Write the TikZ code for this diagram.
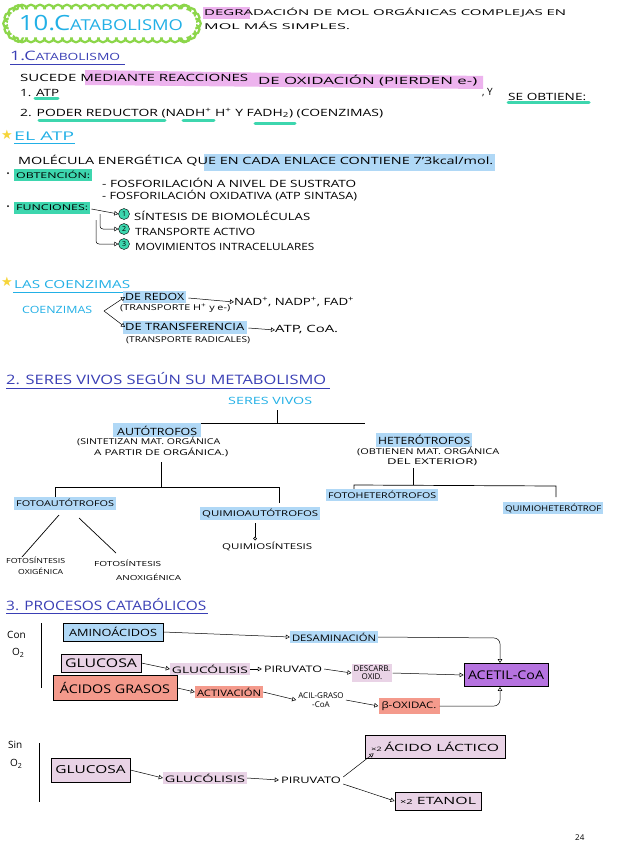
\documentclass[tikz,border=0pt]{standalone}
\usepackage{fontspec}
\usepackage{graphicx}
\setmainfont{Open Sans}
\newfontfamily\symf{DejaVu Sans}
\usetikzlibrary{arrows.meta}
\newcommand\fw[2]{\resizebox{#1}{\height}{#2}}
\definecolor{hblue}{HTML}{3A3FB5}
\definecolor{cyanT}{HTML}{22B0E6}
\definecolor{tgreen}{HTML}{8CD64A}
\definecolor{hpink}{HTML}{EDB3EE}
\definecolor{hgreen}{HTML}{3DD6AE}
\definecolor{hlblue}{HTML}{B0D8F6}
\definecolor{purp}{HTML}{B673E0}
\definecolor{salm}{HTML}{F49A8C}
\definecolor{lilac}{HTML}{E9D3E6}
\definecolor{ystar}{HTML}{F6D53A}
\tikzset{
 t/.style={anchor=west, inner sep=0pt, font=\fontsize{10}{12}\selectfont},
 ts/.style={anchor=west, inner sep=0pt, font=\fontsize{8}{10}\selectfont},
 hd/.style={anchor=west, inner sep=0pt, text=hblue, font=\fontsize{13}{14}\selectfont},
 cy/.style={anchor=west, inner sep=0pt, text=cyanT, font=\fontsize{11}{12}\selectfont},
 ul/.style={line width=0.8pt},
 gul/.style={hgreen, line width=3pt, line cap=round},
 arr/.style={-{Triangle[open,length=4pt,width=4.5pt]}, line width=0.5pt},
 bx/.style={draw, line width=0.8pt, inner sep=0pt, font=\fontsize{10}{12}\selectfont},
 hlt/.style={inner sep=2pt, font=\fontsize{9}{11}\selectfont},
 num/.style={circle, draw, fill=hgreen, inner sep=0pt, minimum size=11pt, font=\fontsize{7}{7}\selectfont},
 tree/.style={line width=0.7pt},
 puff/.style={draw=tgreen, line width=2.2pt}
}
\begin{document}
\begin{tikzpicture}[x=1pt,y=-1pt]
\useasboundingbox (0,0) rectangle (616,848);
\fill[white] (0,0) rectangle (616,848);
% ---------- title cloud
\foreach \x in {22,31,...,184} {
  \draw[puff] (\x,9.5) circle (4.8pt);
  \draw[puff] (\x,37.5) circle (4.8pt);
}
\foreach \a in {105,130,...,255} { \draw[puff] (22,23.5) ++(\a:14) circle (4.8pt); }
\foreach \a in {-75,-50,...,75} { \draw[puff] (182,23.5) ++(\a:14) circle (4.8pt); }
\fill[white, rounded corners=13pt] (8,9.5) rectangle (196,37.5);
\node[inner sep=0pt, text=cyanT] (ttl) at (101,23.5) {\fw{164pt}{\fontsize{21}{21}\selectfont 10.C\fontsize{15}{15}\selectfont ATABOLISMO}};
\fill[hpink] (203,7) rectangle (250,19);
\node[ts] (deg1) at (204,13) {\fw{362pt}{DEGRADACIÓN DE MOL ORGÁNICAS COMPLEJAS EN}};
\node[ts] (deg2) at (204,26) {\fw{146pt}{MOL MÁS SIMPLES.}};
% ---------- 1. catabolismo
\node[hd] (s1) at (10,56) {\fw{110pt}{1.C{\fontsize{10}{12}\selectfont ATABOLISMO}}};
\draw[hblue,ul] (10,64) -- (125,64);
\fill[hpink] (85,70) -- (483,76) -- (483,89) -- (85,85) -- cycle;
\node[t] (suc1) at (20,78) {\fw{228pt}{SUCEDE MEDIANTE REACCIONES}};
\node[t] (suc2) at (258,81) {\fw{219pt}{DE OXIDACIÓN (PIERDEN e-)}};
\node[t] (yy) at (482,93) {, Y};
\draw[gul] (508,103) -- (589,103);
\node[t] (obt) at (508,97) {\fw{78pt}{SE OBTIENE:}};
\draw[gul] (35,99) -- (58,99);
\node[t] (atp1) at (20,93) {\fw{39pt}{1. ATP}};
\draw[gul] (39,121) -- (165,121);
\draw[gul] (183,121) -- (214,121);
\draw[gul] (255,124) -- (295,124);
\node[t] (pod) at (20,113) {\fw{363pt}{2. PODER REDUCTOR (NADH\textsuperscript{+} H\textsuperscript{+} Y FADH\textsubscript{2}) (COENZIMAS)}};
% ---------- EL ATP
\node[t, text=ystar, font=\symf\fontsize{13}{13}\selectfont] (st1) at (1,135) {★};
\node[cy, font=\fontsize{12}{13}\selectfont] (elatp) at (14,136) {\fw{60pt}{EL ATP}};
\draw[cyanT,ul] (14,143) -- (75,143);
\fill[hlblue] (204,154) rectangle (495,171);
\node[t] (mol) at (18,161) {\fw{475pt}{MOLÉCULA ENERGÉTICA QUE EN CADA ENLACE CONTIENE 7'3kcal/mol.}};
\fill[hgreen] (14,169) rectangle (92,181);
\fill (8,173) circle (1pt);
\node[ts] (obtc) at (16,175) {\fw{74pt}{OBTENCIÓN:}};
\node[t] (f1) at (102,183) {\fw{254pt}{- FOSFORILACIÓN A NIVEL DE SUSTRATO}};
\node[t] (f2) at (102,196) {\fw{255pt}{- FOSFORILACIÓN OXIDATIVA (ATP SINTASA)}};
\fill[hgreen] (14,202) rectangle (90,214);
\fill (8,206) circle (1pt);
\node[ts] (func) at (16,208) {\fw{72pt}{FUNCIONES:}};
\node[num] (c1) at (124,214) {1};
\node[num] (c2) at (124,229) {2};
\node[num] (c3) at (124,244) {3};
\node[t] (fn1) at (134,216) {\fw{176pt}{SÍNTESIS DE BIOMOLÉCULAS}};
\node[t] (fn2) at (135,232) {\fw{120pt}{TRANSPORTE ACTIVO}};
\node[t] (fn3) at (135,247) {\fw{179pt}{MOVIMIENTOS INTRACELULARES}};
\draw[arr] (func.east) ++(3,1) -- (c1.west);
\draw[arr, rounded corners=3pt] (100,214) -- (100,229) -- (c2.west);
\draw[arr, rounded corners=3pt] (96,220) -- (96,244) -- (c3.west);
% ---------- LAS COENZIMAS
\node[t, text=ystar, font=\symf\fontsize{13}{13}\selectfont] (st2) at (1,282) {★};
\node[cy] (lasco) at (14,285) {\fw{116pt}{LAS COENZIMAS}};
\draw[cyanT,ul] (13,292) -- (131,292);
\node[cy, font=\fontsize{10}{12}\selectfont] (coenz) at (22,310) {\fw{70pt}{COENZIMAS}};
\coordinate (fork) at (104,311);
\fill[hlblue] (123,291) rectangle (186,303);
\node[t] (redox) at (125,297) {\fw{59pt}{DE REDOX}};
\node[ts] (redox2) at (120,308) {\fw{110pt}{(TRANSPORTE H\textsuperscript{+} y e-)}};
\fill[hlblue] (123,321) rectangle (247,334);
\node[t] (transf) at (125,327) {\fw{119pt}{DE TRANSFERENCIA}};
\node[ts] (transf2) at (126,340) {\fw{124pt}{(TRANSPORTE RADICALES)}};
\draw[arr] (fork) -- (redox.west);
\draw[arr] (fork) -- (transf.west);
\node[t] (nad) at (234,302) {\fw{120pt}{NAD\textsuperscript{+}, NADP\textsuperscript{+}, FAD\textsuperscript{+}}};
\node[t] (atpcoa) at (275,330) {\fw{63pt}{ATP, CoA.}};
\draw[arr] (redox.east) ++(4,1) -- (nad.west);
\draw[arr] (transf.east) ++(4,1) -- (atpcoa.west);
% ---------- 2. seres vivos
\node[hd] (s2) at (6,379) {\fw{320pt}{2. SERES VIVOS SEGÚN SU METABOLISMO}};
\draw[hblue,ul] (6,388) -- (330,388);
\node[cy, font=\fontsize{10}{12}\selectfont] (sv) at (228,401) {\fw{84pt}{SERES VIVOS}};
\draw[tree] (277,410) -- (277,423);
\draw[tree] (161,429) -- (161,423) -- (365,423);
\fill[hlblue] (113,423) rectangle (201,437);
\node[t] (auto) at (117,431) {\fw{80pt}{AUTÓTROFOS}};
\node[ts] (auto2) at (77,441) {\fw{143pt}{(SINTETIZAN MAT. ORGÁNICA}};
\node[ts] (auto3) at (94,452) {\fw{134pt}{A PARTIR DE ORGÁNICA.)}};
\fill[hlblue] (376,433) rectangle (472,447);
\node[t] (het) at (378,440) {\fw{92pt}{HETERÓTROFOS}};
\node[ts] (het2) at (357,451) {\fw{142pt}{(OBTIENEN MAT. ORGÁNICA}};
\node[ts] (het3) at (387,462) {\fw{90pt}{DEL EXTERIOR)}};
\draw[tree] (161,462) -- (161,487);
\draw[tree] (55,497) -- (55,487) -- (279,487) -- (279,503);
\draw[tree] (413,468) -- (413,485);
\draw[tree] (354,491) -- (354,485) -- (556,486) -- (556,497);
\fill[hlblue] (14,497) rectangle (116,510);
\node[ts] (fa) at (16,503) {\fw{98pt}{FOTOAUTÓTROFOS}};
\fill[hlblue] (200,507) rectangle (320,520);
\node[ts] (qa) at (202,513) {\fw{116pt}{QUIMIOAUTÓTROFOS}};
\fill[hlblue] (326,489) rectangle (438,501);
\node[ts] (fh) at (328,495) {\fw{108pt}{FOTOHETERÓTROFOS}};
\fill[hlblue] (503,502) rectangle (603,514);
\node[ts] (qh) at (505,508) {\fw{96pt}{QUIMIOHETERÓTROF}};
\node[ts, font=\fontsize{7}{8}\selectfont] (fox1) at (6,560) {\fw{59pt}{FOTOSÍNTESIS}};
\node[ts, font=\fontsize{7}{8}\selectfont] (fox2) at (18,571) {\fw{45pt}{OXIGÉNICA}};
\node[ts, font=\fontsize{7}{8}\selectfont] (fan1) at (94,563) {\fw{67pt}{FOTOSÍNTESIS}};
\node[ts, font=\fontsize{7}{8}\selectfont] (fan2) at (116,577) {\fw{65pt}{ANOXIGÉNICA}};
\draw[tree] (59,515) -- (22,557);
\draw[tree] (79,518) -- (116,553);
\draw[tree] (255,523) -- (255,537);
\draw[tree] (255,538.5) circle (1.5pt);
\node[ts] (qs) at (222,546) {\fw{90pt}{QUIMIOSÍNTESIS}};
% ---------- 3. procesos
\node[hd] (s3) at (6,605) {\fw{200pt}{3. PROCESOS CATABÓLICOS}};
\draw[hblue,ul] (6,613) -- (208,613);
\node[t] (con) at (7,635) {Con};
\node[t] (o2a) at (12,653) {O\textsubscript{2}};
\draw[tree] (41,623) -- (41,688);
\node[bx, fill=hlblue, minimum width=100pt, minimum height=18pt] (ami) at (113,632) {\fw{88pt}{AMINOÁCIDOS}};
\node[hlt, fill=hlblue] (desam) at (334,637) {\fw{84pt}{DESAMINACIÓN}};
\node[bx, fill=purp, minimum width=84pt, minimum height=23pt] (acet) at (506,675) {\fw{76pt}{\fontsize{12}{12}\selectfont ACETIL-CoA}};
\node[bx, fill=lilac, minimum width=80pt, minimum height=18pt] (glu) at (101,663) {\fw{72pt}{\fontsize{12}{12}\selectfont GLUCOSA}};
\node[hlt, fill=lilac] (gluc) at (210,669) {\fw{76pt}{GLUCÓLISIS}};
\node[hlt] (piru) at (293,669) {\fw{58pt}{PIRUVATO}};
\node[hlt, fill=lilac, align=center, font=\fontsize{8}{8}\selectfont] (desc) at (372,673) {DESCARB.\\OXID.};
\node[bx, fill=salm, minimum width=124pt, minimum height=25pt] (ag) at (115,688) {\fw{110pt}{\fontsize{12}{12}\selectfont ÁCIDOS GRASOS}};
\node[hlt, fill=salm] (act) at (229,692) {\fw{64pt}{ACTIVACIÓN}};
\node[hlt, align=center, font=\fontsize{8}{9}\selectfont] (acil) at (321,700) {ACIL-GRASO\\-CoA};
\node[hlt, fill=salm, inner sep=3pt] (bo) at (409,706) {\fw{55pt}{β-OXIDAC.}};
\draw[arr] (ami.east) -- (desam.west);
\draw[arr, rounded corners=6pt] (desam.east) -- (500,638) -- ([xshift=-6pt]acet.north);
\draw[arr] (glu.east) -- (gluc.west);
\draw[arr] (gluc.east) -- (piru.west);
\draw[arr] (piru.east) -- (desc.west);
\draw[arr] (desc.east) -- (acet.west);
\draw[arr] (ag.east) -- (act.west);
\draw[arr] (act.east) -- (acil.west);
\draw[arr] (acil.east) -- (bo.west);
\draw[arr, rounded corners=6pt] (bo.east) -- (500,706) -- ([xshift=-6pt]acet.south);
% ---------- sin O2
\node[t] (sin) at (8,745) {Sin};
\node[t] (o2b) at (10,764) {O\textsubscript{2}};
\draw[tree] (39,743) -- (39,802);
\node[bx, fill=lilac, minimum width=79pt, minimum height=24pt] (glu2) at (90.5,770) {\fw{70pt}{\fontsize{11}{12}\selectfont GLUCOSA}};
\node[hlt, fill=lilac] (gluc2) at (205,778) {\fw{80pt}{GLUCÓLISIS}};
\node[hlt] (piru2) at (311,780) {\fw{60pt}{PIRUVATO}};
\node[bx, fill=lilac, minimum width=140pt, minimum height=23pt] (lac) at (435,746.5) {\fw{128pt}{{\fontsize{6}{6}\selectfont ×2}\,ÁCIDO LÁCTICO}};
\node[bx, fill=lilac, minimum width=86pt, minimum height=18pt] (eta) at (438,801) {\fw{76pt}{{\fontsize{7}{7}\selectfont ×2} ETANOL}};
\draw[arr] (glu2.east) -- (gluc2.west);
\draw[arr] (gluc2.east) -- (piru2.west);
\draw[arr] ([yshift=3pt]piru2.east) -- ([xshift=9pt,yshift=5pt]lac.south west);
\draw[arr] ([yshift=-4pt]piru2.east) -- (eta.west);
\node[ts] (pg) at (575,838) {24};
\end{tikzpicture}
\end{document}
